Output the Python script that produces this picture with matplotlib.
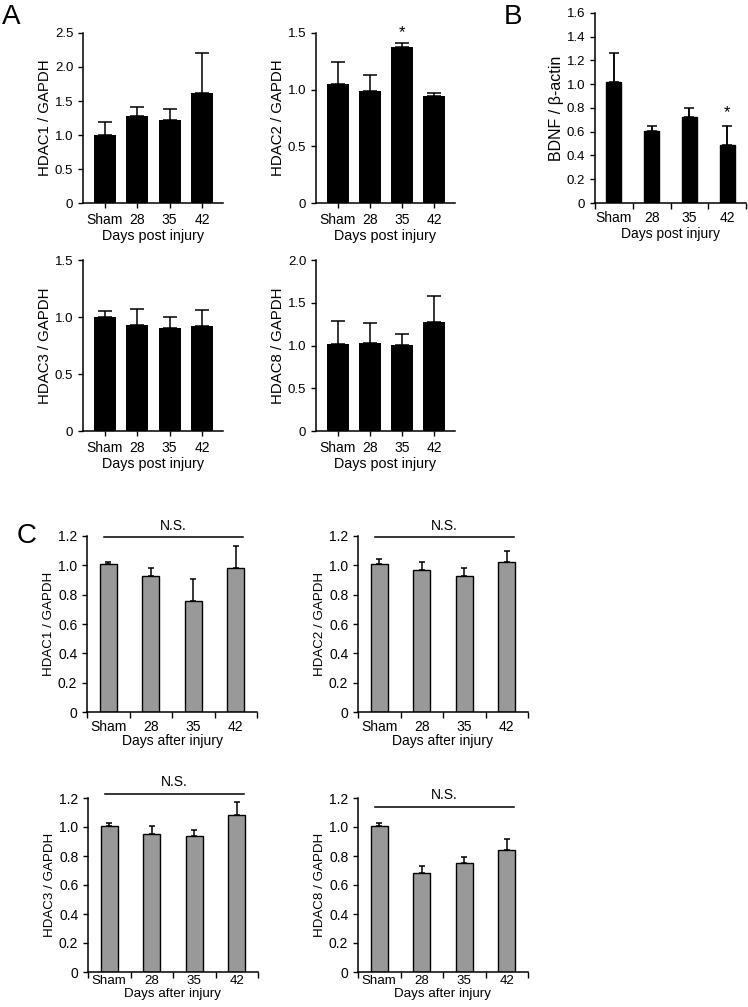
import numpy as np
import matplotlib
matplotlib.use('Agg')
import matplotlib.pyplot as plt

plt.rcParams['font.family'] = ['Liberation Sans', 'DejaVu Sans']

# Categories
groups = ['Sham', '28', '35', '42']

# Panel A (mean, SEM)
a_hdac1 = [1.00, 1.28, 1.22, 1.62]
a_hdac1_err = [0.19, 0.13, 0.16, 0.58]
a_hdac2 = [1.05, 0.99, 1.38, 0.94]
a_hdac2_err = [0.19, 0.14, 0.03, 0.03]
a_hdac3 = [1.00, 0.93, 0.90, 0.92]
a_hdac3_err = [0.05, 0.14, 0.10, 0.14]
a_hdac8 = [1.02, 1.03, 1.01, 1.28]
a_hdac8_err = [0.27, 0.23, 0.12, 0.30]

# Panel B
b_bdnf = [1.02, 0.61, 0.72, 0.49]
b_bdnf_err = [0.24, 0.04, 0.08, 0.16]

# Panel C
c_hdac1 = [1.01, 0.93, 0.76, 0.98]
c_hdac1_err = [0.01, 0.05, 0.15, 0.15]
c_hdac2 = [1.01, 0.97, 0.93, 1.02]
c_hdac2_err = [0.03, 0.05, 0.05, 0.08]
c_hdac3 = [1.01, 0.95, 0.94, 1.08]
c_hdac3_err = [0.02, 0.06, 0.04, 0.09]
c_hdac8 = [1.01, 0.68, 0.75, 0.84]
c_hdac8_err = [0.02, 0.05, 0.04, 0.08]

W, H = 748, 1007
fig = plt.figure(figsize=(W / 100, H / 100), dpi=100)


def px_axes(x0, x1, ytop, ybot):
    return fig.add_axes([x0 / W, 1 - ybot / H, (x1 - x0) / W, (ybot - ytop) / H])


def style(ax):
    for s in ['top', 'right']:
        ax.spines[s].set_visible(False)
    for s in ['left', 'bottom']:
        ax.spines[s].set_linewidth(1.1)
    ax.tick_params(width=1.0, length=3.5, direction='out')


def fmt(v):
    return '0' if v == 0 else '%.1f' % v


def panel_a(ax, vals, errs, ymax, ystep, ylabel):
    x = np.arange(len(groups))
    ax.bar(x, vals, width=0.68, color='black')
    ax.errorbar(x, vals, yerr=[np.zeros(len(errs)), errs], fmt='none',
                ecolor='black', elinewidth=1.1, capsize=5.2, capthick=1.1)
    style(ax)
    ax.set_xlim(-0.68, 3.65)
    ax.set_ylim(0, ymax)
    yt = np.arange(0, ymax + 1e-9, ystep)
    ax.set_yticks(yt)
    ax.set_yticklabels([fmt(v) for v in yt], fontsize=9.5)
    ax.set_xticks(x)
    ax.set_xticklabels(groups, fontsize=10)
    ax.set_xlabel('Days post injury', fontsize=10.3, labelpad=1.5)
    ax.set_ylabel(ylabel, fontsize=10.8, labelpad=2)


def panel_c(ax, vals, errs, ylabel, ns_y, xlabel='Days after injury',
            color='#999999', width=0.4, cap=2.0, ylab_fs=9.6,
            tick_pad=6, lab_pad=0, fs=10):
    x = np.arange(len(groups))
    ax.bar(x, vals, width=width, color=color, edgecolor='black', linewidth=1.0)
    ax.errorbar(x, vals, yerr=[np.zeros(len(errs)), errs], fmt='none',
                ecolor='black', elinewidth=1.1, capsize=cap, capthick=1.1)
    style(ax)
    ax.set_xlim(-0.5, 3.5)
    ax.set_xticks(x)
    ax.set_xticklabels(groups, fontsize=fs)
    ax.tick_params(axis='x', length=0, pad=tick_pad)
    ax.set_xticks(np.arange(-0.5, 3.6, 1.0), minor=True)
    ax.tick_params(axis='x', which='minor', length=4, width=1.0)
    ax.set_xlabel(xlabel, fontsize=fs, labelpad=lab_pad)
    ax.set_ylabel(ylabel, fontsize=ylab_fs, labelpad=2)
    if ns_y is not None:
        ax.plot([-0.1, 3.16], [ns_y, ns_y], color='black', lw=1.1, clip_on=False)
        ax.text(1.53, ns_y + 0.03, 'N.S.', ha='center', va='bottom', fontsize=10)


# Panel A
ax = px_axes(83, 223, 33, 203)
panel_a(ax, a_hdac1, a_hdac1_err, 2.5, 0.5, 'HDAC1 / GAPDH')
ax = px_axes(316, 455, 33, 203)
panel_a(ax, a_hdac2, a_hdac2_err, 1.5, 0.5, 'HDAC2 / GAPDH')
ax.text(2, 1.44, '*', ha='center', va='bottom', fontsize=12)
ax = px_axes(83, 223, 260, 431)
panel_a(ax, a_hdac3, a_hdac3_err, 1.5, 0.5, 'HDAC3 / GAPDH')
ax = px_axes(316, 455, 260, 431)
panel_a(ax, a_hdac8, a_hdac8_err, 2.0, 0.5, 'HDAC8 / GAPDH')

# Panel B
ax = px_axes(595, 746, 13, 203)
panel_c(ax, b_bdnf, b_bdnf_err, 'BDNF / β-actin', None,
        xlabel='Days post injury', color='black', width=0.4, cap=0,
        ylab_fs=11.5, lab_pad=1.5)
ax.errorbar(np.arange(4), b_bdnf, yerr=[np.zeros(4), b_bdnf_err], fmt='none',
            ecolor='black', elinewidth=1.1, capsize=3.5, capthick=1.1)
ax.set_ylim(0, 1.6)
yt = np.arange(0, 1.61, 0.2)
ax.set_yticks(yt)
ax.set_yticklabels([fmt(v) for v in yt], fontsize=9.5)
ax.text(3, 0.695, '*', ha='center', va='bottom', fontsize=12)

# Panel C
c_sets = [
    (87, 257, 536, 712, c_hdac1, c_hdac1_err, 'HDAC1 / GAPDH', 1.19, 6, 0, 10),
    (358, 528, 536, 712, c_hdac2, c_hdac2_err, 'HDAC2 / GAPDH', 1.19, 6, 0, 10),
    (88, 258, 798, 972, c_hdac3, c_hdac3_err, 'HDAC3 / GAPDH', 1.23, 2.5, 0.3, 9.6),
    (358, 528, 798, 972, c_hdac8, c_hdac8_err, 'HDAC8 / GAPDH', 1.14, 2.5, 0.3, 9.6),
]
for x0, x1, yt0, yb0, v, e, lab, nsy, tp, lp, fs in c_sets:
    ax = px_axes(x0, x1, yt0, yb0)
    panel_c(ax, v, e, lab, nsy, tick_pad=tp, lab_pad=lp, fs=fs)
    ax.set_ylim(0, 1.2)
    yt = np.arange(0, 1.21, 0.2)
    ax.set_yticks(yt)
    ax.set_yticklabels([fmt(v) for v in yt], fontsize=10)

# Panel letters
fig.text(2 / W, 1 - 4 / H, 'A', fontsize=20, va='top', ha='left')
fig.text(504 / W, 1 - 4 / H, 'B', fontsize=20, va='top', ha='left')
fig.text(17 / W, 1 - 523 / H, 'C', fontsize=20, va='top', ha='left')

fig.savefig('out.png', dpi=100)
